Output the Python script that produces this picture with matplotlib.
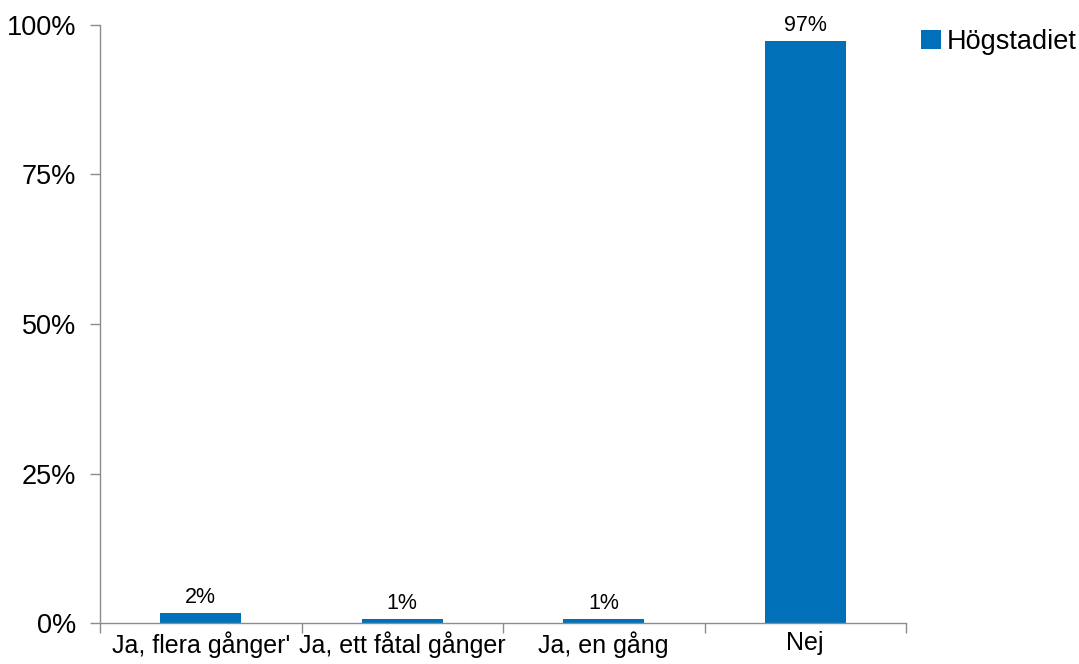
import matplotlib
matplotlib.use("Agg")
import matplotlib.pyplot as plt
import numpy as np
from matplotlib.ticker import FixedLocator

plt.rcParams['font.family'] = ['Liberation Sans', 'DejaVu Sans']

categories = ["Ja, flera gånger'", "Ja, ett fåtal gånger", "Ja, en gång", "Nej"]
values = [1.6, 0.6, 0.6, 97.3]
value_labels = ["2%", "1%", "1%", "97%"]
series_name = "Högstadiet"
y_ticks = [0, 25, 50, 75, 100]
y_tick_labels = ["0%", "25%", "50%", "75%", "100%"]

bar_color = "#0070B8"
axis_color = "#8c8c8c"

fig = plt.figure(figsize=(10.79, 6.64), dpi=100)
ax = fig.add_axes([100 / 1079, 1 - 623 / 664, 806 / 1079, 598 / 664])

x = np.arange(len(categories))
bars = ax.bar(x, values, width=0.4, color=bar_color, label=series_name, zorder=2)

for xi, v, lab in zip(x, values, value_labels):
    ax.annotate(lab, (xi, v), xytext=(0, 4), textcoords="offset points",
                ha="center", va="bottom", fontsize=15.5)

ax.set_xlim(-0.5, len(categories) - 0.5)
ax.set_ylim(0, 100)
ax.set_yticks(y_ticks)
ax.set_yticklabels(y_tick_labels, fontsize=19.5)
ax.set_xticks(x)
ax.set_xticklabels(categories, fontsize=18)
ax.tick_params(axis="x", which="major", length=0, pad=6)
ax.xaxis.set_minor_locator(FixedLocator(np.arange(-0.5, len(categories), 1.0)))
ax.tick_params(axis="x", which="minor", length=7, color=axis_color, width=1)
ax.tick_params(axis="y", length=7, color=axis_color, width=1, pad=10)

for side in ["top", "right"]:
    ax.spines[side].set_visible(False)
for side in ["left", "bottom"]:
    ax.spines[side].set_color(axis_color)
    ax.spines[side].set_linewidth(1)

fig.legend(handles=[bars], labels=[series_name], loc="upper left",
           bbox_to_anchor=(921 / 1079, 1 - 29 / 664), frameon=False,
           fontsize=19.5, handlelength=0.75, handleheight=0.75, handletextpad=0.2,
           borderaxespad=0, borderpad=0)

fig.savefig("out.png", dpi=100)
